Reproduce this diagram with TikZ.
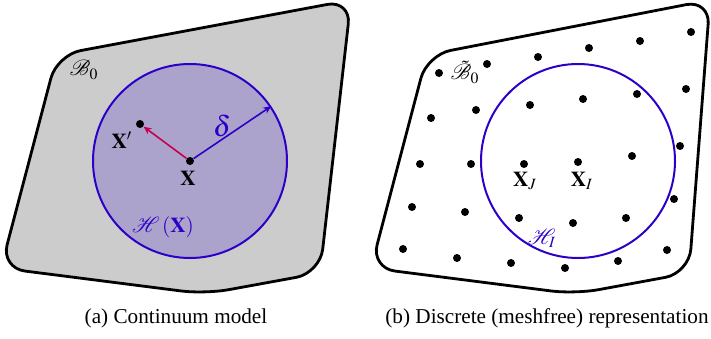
\documentclass[tikz,border=0pt]{standalone}
\usepackage{mathptmx}
\usepackage{mathrsfs}
\usepackage{fontspec}
\setmainfont{Liberation Serif}
\usetikzlibrary{arrows.meta}

\definecolor{bodygray}{RGB}{204,204,204}
\definecolor{horfill}{RGB}{172,163,204}
\definecolor{horblue}{RGB}{45,0,200}
\definecolor{bondred}{RGB}{200,0,80}

\begin{document}
\begin{tikzpicture}[
    x=0.5pt, y=-0.5pt,
    font=\fontsize{10.6}{12.5}\selectfont,
    body/.style={draw=black, line width=1.4pt, rounded corners=12pt, line join=round},
    horizon/.style={circle, draw=horblue, line width=1pt, minimum size=97pt, inner sep=0pt},
    pt/.style={circle, fill=black, inner sep=0pt, minimum size=4pt},
    arr/.style={-{Stealth[length=4pt, width=3.5pt]}, line width=0.8pt},
    lbl/.style={inner sep=1pt}
  ]
    \useasboundingbox (0,0) rectangle (711,338);

    %% ── (a) Continuum model
    \draw[body, fill=bodygray] (57,55) -- (351,0) -- (320,273) -- (205,294) -- (1,268) -- cycle;
    \node[horizon, fill=horfill] (H) at (190,161) {};
    \node[pt] (X)  at (190,161) {};
    \node[pt] (Xp) at (140,124) {};

    \draw[arr, bondred] (X) -- (Xp);
    \draw[arr, horblue] (X) -- (H.34);

    \node[lbl] (B0)    at (84,70)   {$\mathscr{B}_0$};
    \node[lbl] (lXp)   at (122,140) {$\mathbf{X}'$};
    \node[lbl] (lX)    at (188,178) {$\mathbf{X}$};
    \node[lbl, horblue, font=\fontsize{14.5}{16}\selectfont] (delta) at (222,126) {$\delta$};
    \node[lbl, horblue] (lH) at (163,227) {$\mathscr{H}\left(\mathbf{X}\right)$};

    \node (capa) at (176,318) {(a) Continuum model};

    %% ── (b) Discrete (meshfree) representation
    \draw[body] (427,55) -- (710,0) -- (689,273) -- (575,294) -- (371,268) -- cycle;
    \node[horizon] (HI) at (578,161) {};

    %% Particles
    \foreach \x/\y [count=\i] in {439/73, 487/64, 538/57, 589/48, 640/41, 691/32,
                                   431/118, 476/110, 530/105, 583/99, 637/94, 686/89,
                                   420/164, 471/164, 632/156, 680/146,
                                   412/207, 465/212, 519/218, 573/223, 626/218, 674/199,
                                   403/249, 457/258, 511/263, 565/268, 618/261, 667/250}
      \node[pt] (n\i) at (\x,\y) {};
    \node[pt] (XJ) at (524,164) {};
    \node[pt] (XI) at (578,162) {};

    \node[lbl, inner sep=0.5pt] (Bt0)  at (465,72)  {$\tilde{\mathscr{B}}_0$};
    \node[lbl] (lXJ)  at (525,181) {$\mathbf{X}_J$};
    \node[lbl] (lXI)  at (582,181) {$\mathbf{X}_I$};
    \node[lbl, horblue] (lHI) at (542,238) {$\mathscr{H}_I$};

    \node (capb) at (547,318) {(b) Discrete (meshfree) representation};
\end{tikzpicture}
\end{document}
